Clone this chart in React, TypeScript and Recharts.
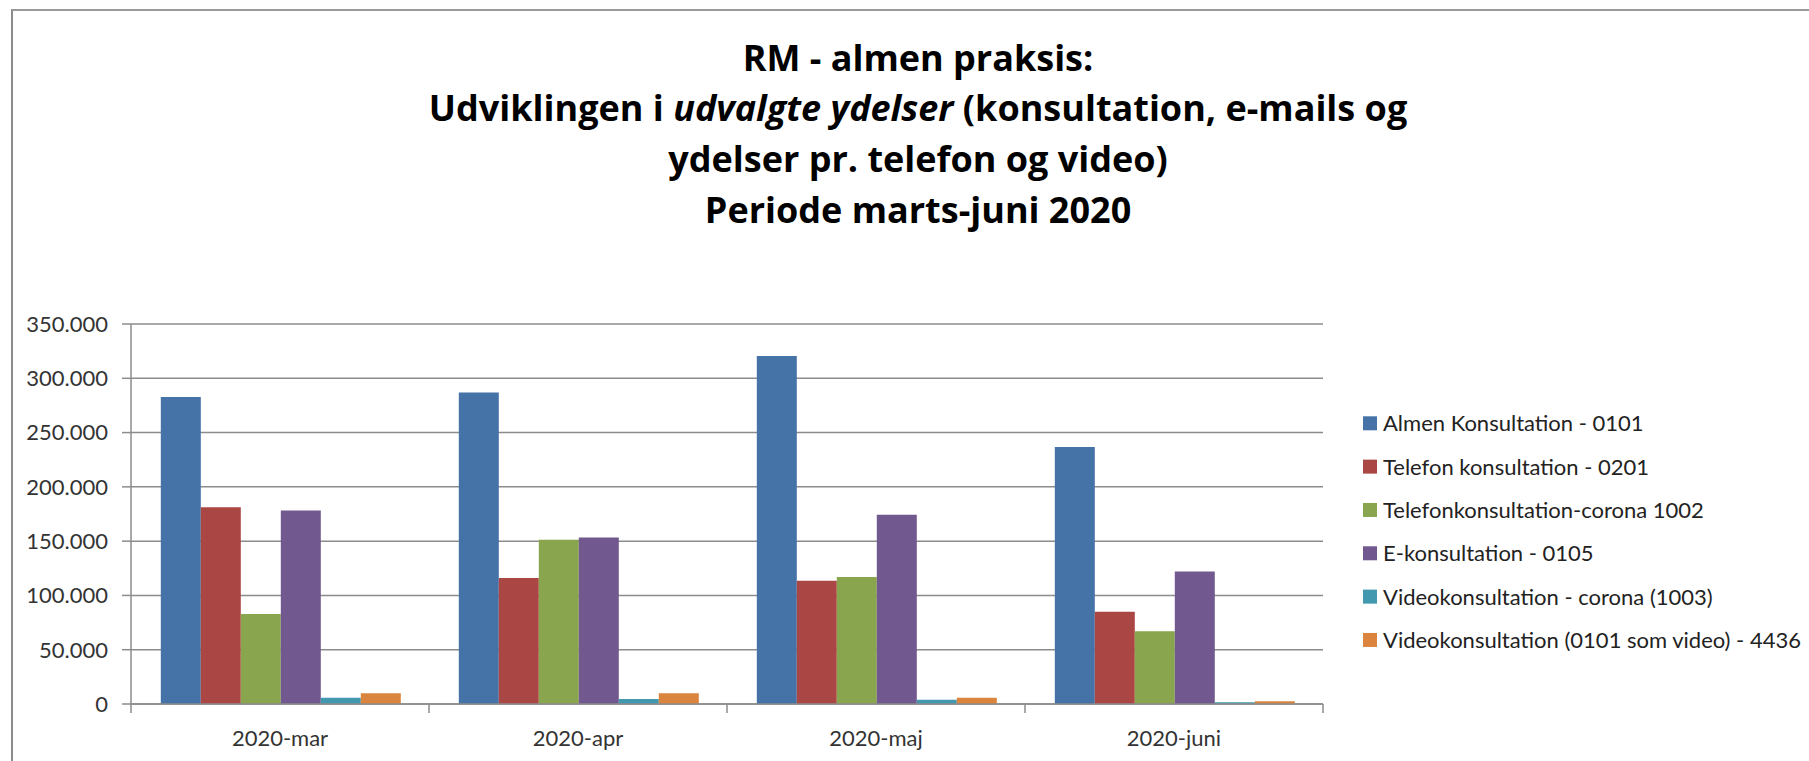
import React from 'react';
import { BarChart, Bar, XAxis, YAxis, CartesianGrid } from 'recharts';

const categories = ['2020-mar', '2020-apr', '2020-maj', '2020-juni'];
const almenKonsultation = [282800, 287000, 320600, 236800];
const telefonKonsultation = [181300, 116000, 113500, 85000];
const telefonCorona = [82800, 151200, 116900, 66900];
const eKonsultation = [178200, 153400, 174200, 122000];
const videoCorona = [5800, 4600, 4000, 1500];
const videoSomVideo = [9800, 9800, 5800, 2500];

const yTicks = [0, 50000, 100000, 150000, 200000, 250000, 300000, 350000];

const seriesNames = [
  'Almen Konsultation - 0101',
  'Telefon konsultation - 0201',
  'Telefonkonsultation-corona 1002',
  'E-konsultation - 0105',
  'Videokonsultation - corona (1003)',
  'Videokonsultation (0101 som video) - 4436',
];
const seriesColors = ['#4572A7', '#AA4643', '#89A54E', '#71588F', '#4198AF', '#DB843D'];
const seriesValues = [
  almenKonsultation,
  telefonKonsultation,
  telefonCorona,
  eKonsultation,
  videoCorona,
  videoSomVideo,
];
const seriesKeys = ['s0', 's1', 's2', 's3', 's4', 's5'];

const data = categories.map((c, i) => {
  const row: Record<string, any> = { name: c };
  seriesKeys.forEach((k, j) => {
    row[k] = seriesValues[j][i];
  });
  return row;
});

const FONT = 'Lato, "Open Sans", sans-serif';
const TITLE_FONT = '"Open Sans", Lato, sans-serif';
const GRAY = '#8c8c8c';

const fmt = (v: number) => {
  const s = String(Math.round(v));
  return s.replace(/\B(?=(\d{3})+(?!\d))/g, '.');
};

const XTick = (props: any) => {
  const { x, y, payload, index, visibleTicksCount } = props;
  const half = payload && payload.offset ? payload.offset : 149;
  const last = index === (visibleTicksCount ? visibleTicksCount - 1 : categories.length - 1);
  return (
    <g>
      <line x1={x - half} x2={x - half} y1={y} y2={y + 9} stroke={GRAY} strokeWidth={1.5} />
      {last && <line x1={x + half} x2={x + half} y1={y} y2={y + 9} stroke={GRAY} strokeWidth={1.5} />}
      <text x={x} y={y + 42} textAnchor="middle" fontFamily={FONT} fontSize={22} fill="#333">
        {payload.value}
      </text>
    </g>
  );
};

const titleLines = [
  'RM - almen praksis:',
  'Udviklingen i ',
  'ydelser pr. telefon og video)',
  'Periode marts-juni 2020',
];

export default function App() {
  return (
    <div
      style={{
        position: 'absolute',
        left: 0,
        top: 0,
        width: 1809,
        height: 761,
        overflow: 'hidden',
        background: '#fff',
        fontFamily: FONT,
      }}
    >
      <div
        style={{
          position: 'absolute',
          left: 11,
          top: 9,
          width: 1900,
          height: 900,
          borderTop: '2px solid #9a9a9a',
          borderLeft: '2px solid #8c8c8c',
        }}
      />
      <div style={{ position: 'absolute', left: 0, top: 0 }}>
        <BarChart
          width={1809}
          height={761}
          data={data}
          margin={{ top: 324, right: 486, bottom: 17, left: 31 }}
          barCategoryGap="10%"
          barGap={0}
        >
          <CartesianGrid vertical={false} stroke={GRAY} strokeWidth={1.5} />
          <XAxis
            dataKey="name"
            height={40}
            axisLine={{ stroke: GRAY, strokeWidth: 1.5 }}
            tickLine={false}
            tickSize={0}
            tickMargin={0}
            tick={<XTick />}
            interval={0}
          />
          <YAxis
            width={100}
            domain={[0, 350000]}
            ticks={yTicks}
            interval={0}
            tickFormatter={fmt}
            axisLine={{ stroke: GRAY, strokeWidth: 1.5 }}
            tickLine={{ stroke: GRAY, strokeWidth: 1.5 }}
            tickSize={9}
            tickMargin={14}
            tick={{ fontFamily: FONT, fontSize: 22, fill: '#333' }}
          />
          {seriesKeys.map((k, j) => (
            <Bar key={k} dataKey={k} name={seriesNames[j]} fill={seriesColors[j]} isAnimationActive={false} />
          ))}
        </BarChart>
      </div>
      <svg
        width={1809}
        height={761}
        style={{ position: 'absolute', left: 0, top: 0, pointerEvents: 'none' }}
      >
        <g fontFamily={TITLE_FONT} fontWeight={700} fontSize={36} fill="#000" textAnchor="middle">
          <text x={918} y={71}>{titleLines[0]}</text>
          <text x={918} y={121}>
            {titleLines[1]}
            <tspan fontStyle="italic">udvalgte ydelser</tspan>
            {' (konsultation, e-mails og'}
          </text>
          <text x={918} y={172}>{titleLines[2]}</text>
          <text x={918} y={223}>{titleLines[3]}</text>
        </g>
        <g fontFamily={FONT} fontSize={22} fill="#222">
          {seriesNames.map((n, j) => {
            const cy = 423.3 + j * 43.33;
            return (
              <g key={n}>
                <rect x={1363} y={cy - 7} width={14} height={14} fill={seriesColors[j]} />
                <text x={1383} y={cy + 8}>{n}</text>
              </g>
            );
          })}
        </g>
      </svg>
    </div>
  );
}
